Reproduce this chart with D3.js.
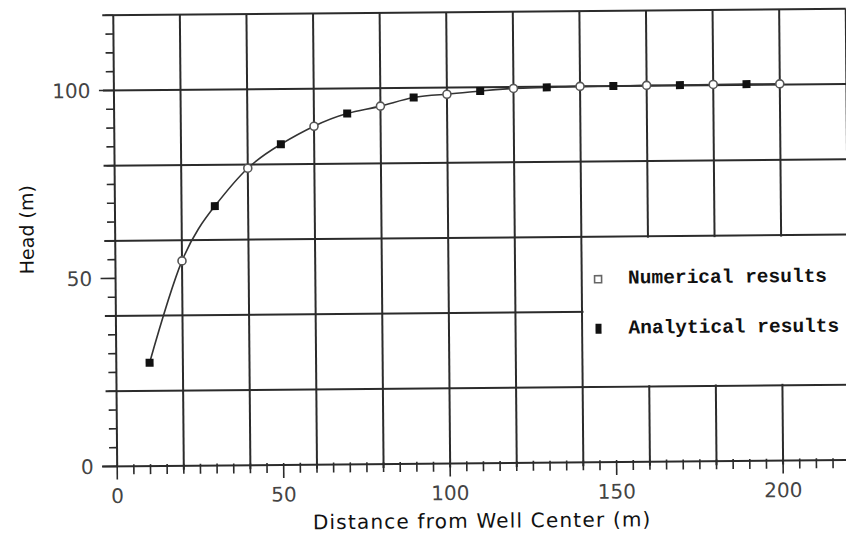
<!DOCTYPE html>
<html>
<head>
<meta charset="utf-8">
<script src="https://cdn.jsdelivr.net/npm/d3@7"></script>
<style>
  body { margin: 0; background: #fff; }
  svg { display: block; }
</style>
</head>
<body>
<div id="chart"></div>
<script>
// values
const numericalDistance = [20, 40, 60, 80, 100, 120, 140, 160, 180, 200];
const numericalHead = [54.5, 79, 90, 95.2, 98.2, 99.6, 100, 100.1, 100.2, 100.2];
const analyticalDistance = [10, 30, 50, 70, 90, 110, 130, 150, 170, 190];
const analyticalHead = [27.5, 69, 85.3, 93.3, 97.4, 99, 99.8, 100, 100.1, 100.2];

const xTickValues = [0, 50, 100, 150, 200];
const yTickValues = [0, 50, 100];
const legendLabels = ["Numerical results", "Analytical results"];

function drawHeadChart() {
  const width = 846;
  const height = 536;
  const ink = "#2b2b2b";

  const svg = d3.select("#chart")
    .append("svg")
    .attr("width", width)
    .attr("height", height);

  // the scan is tilted a little, so the whole plot is too
  const chart = svg.append("g")
    .attr("transform", "rotate(-0.5, 450, 270)");

  const xScale = d3.scaleLinear().domain([0, 220]).range([115.5, 848]);
  const yScale = d3.scaleLinear().domain([0, 120]).range([463.5, 12.3]);

  const x0 = xScale(0);
  const y0 = yScale(0);

  // grid
  const gridX = d3.range(20, 221, 20);
  const gridY = d3.range(20, 121, 20);

  chart.append("g")
    .selectAll("line")
    .data(gridX)
    .join("line")
    .attr("x1", d => xScale(d))
    .attr("x2", d => xScale(d))
    .attr("y1", yScale(120))
    .attr("y2", y0 + 4)
    .attr("stroke", ink)
    .attr("stroke-width", 2);

  chart.append("g")
    .selectAll("line")
    .data(gridY)
    .join("line")
    .attr("x1", x0 - 11)
    .attr("x2", xScale(220))
    .attr("y1", d => yScale(d))
    .attr("y2", d => yScale(d))
    .attr("stroke", ink)
    .attr("stroke-width", 2);

  // legend box covers the cells between 140..220 and 20..60
  chart.append("rect")
    .attr("x", xScale(140) + 1.5)
    .attr("y", yScale(60) + 1.5)
    .attr("width", xScale(220) - xScale(140))
    .attr("height", yScale(20) - yScale(60) - 3)
    .attr("fill", "#fff");

  // axes lines
  chart.append("line")
    .attr("x1", x0).attr("x2", x0)
    .attr("y1", yScale(120)).attr("y2", y0)
    .attr("stroke", ink).attr("stroke-width", 2);

  chart.append("line")
    .attr("x1", x0 - 15).attr("x2", xScale(220))
    .attr("y1", y0).attr("y2", y0)
    .attr("stroke", ink).attr("stroke-width", 2);

  // minor ticks every 5
  const xMinor = d3.range(0, 221, 5);
  chart.append("g")
    .selectAll("line")
    .data(xMinor)
    .join("line")
    .attr("x1", d => xScale(d))
    .attr("x2", d => xScale(d))
    .attr("y1", y0 - 2)
    .attr("y2", d => y0 + (d % 50 === 0 ? 13 : 8))
    .attr("stroke", ink)
    .attr("stroke-width", 1.6);

  const yMinor = d3.range(0, 121, 5);
  chart.append("g")
    .selectAll("line")
    .data(yMinor)
    .join("line")
    .attr("x1", d => x0 - (d % 50 === 0 ? 15 : 8))
    .attr("x2", x0)
    .attr("y1", d => yScale(d))
    .attr("y2", d => yScale(d))
    .attr("stroke", ink)
    .attr("stroke-width", 1.6);

  // tick labels
  chart.append("g")
    .selectAll("text")
    .data(xTickValues)
    .join("text")
    .attr("x", d => xScale(d))
    .attr("y", 500)
    .attr("text-anchor", "middle")
    .attr("font-family", "DejaVu Sans")
    .attr("font-size", "20px")
    .attr("fill", "#444")
    .text(d => d);

  chart.append("g")
    .selectAll("text")
    .data(yTickValues)
    .join("text")
    .attr("x", 92)
    .attr("y", d => yScale(d))
    .attr("dy", "0.36em")
    .attr("text-anchor", "end")
    .attr("font-family", "DejaVu Sans")
    .attr("font-size", "20px")
    .attr("fill", "#444")
    .text(d => d);

  // axis titles
  chart.append("text")
    .attr("x", 480)
    .attr("y", 528)
    .attr("text-anchor", "middle")
    .attr("font-family", "DejaVu Sans")
    .attr("font-size", "20px")
    .attr("letter-spacing", "1.2px")
    .attr("fill", "#111")
    .text("Distance from Well Center (m)");

  chart.append("text")
    .attr("transform", "translate(27, 226) rotate(-90)")
    .attr("text-anchor", "middle")
    .attr("dy", "0.36em")
    .attr("font-family", "DejaVu Sans")
    .attr("font-size", "19px")
    .attr("fill", "#111")
    .text("Head (m)");

  // curve through both series
  const numerical = numericalDistance.map((d, i) => ({ x: d, y: numericalHead[i] }));
  const analytical = analyticalDistance.map((d, i) => ({ x: d, y: analyticalHead[i] }));
  const curvePoints = numerical.concat(analytical).sort((a, b) => a.x - b.x);

  const line = d3.line()
    .x(d => xScale(d.x))
    .y(d => yScale(d.y))
    .curve(d3.curveNatural);

  chart.append("path")
    .datum(curvePoints)
    .attr("d", line)
    .attr("fill", "none")
    .attr("stroke", "#333")
    .attr("stroke-width", 1.6);

  chart.append("g")
    .selectAll("rect")
    .data(analytical)
    .join("rect")
    .attr("x", d => xScale(d.x) - 4)
    .attr("y", d => yScale(d.y) - 4)
    .attr("width", 8)
    .attr("height", 8)
    .attr("fill", "#111");

  chart.append("g")
    .selectAll("circle")
    .data(numerical)
    .join("circle")
    .attr("cx", d => xScale(d.x))
    .attr("cy", d => yScale(d.y))
    .attr("r", 4)
    .attr("fill", "#fff")
    .attr("stroke", "#555")
    .attr("stroke-width", 1.6);

  // legend
  const legend = chart.append("g")
    .attr("transform", "translate(598, 0)");

  legend.append("rect")
    .attr("x", -3.5).attr("y", 277)
    .attr("width", 7).attr("height", 7)
    .attr("fill", "#fff")
    .attr("stroke", "#666")
    .attr("stroke-width", 1.6);

  legend.append("rect")
    .attr("x", -3).attr("y", 325)
    .attr("width", 6).attr("height", 10)
    .attr("fill", "#111");

  legend.selectAll("text")
    .data(legendLabels)
    .join("text")
    .attr("x", 30)
    .attr("y", (d, i) => 285 + i * 50)
    .attr("font-family", "Liberation Mono")
    .attr("font-weight", "bold")
    .attr("font-size", "19.5px")
    .attr("fill", "#111")
    .text(d => d);
}

drawHeadChart();
</script>
</body>
</html>
